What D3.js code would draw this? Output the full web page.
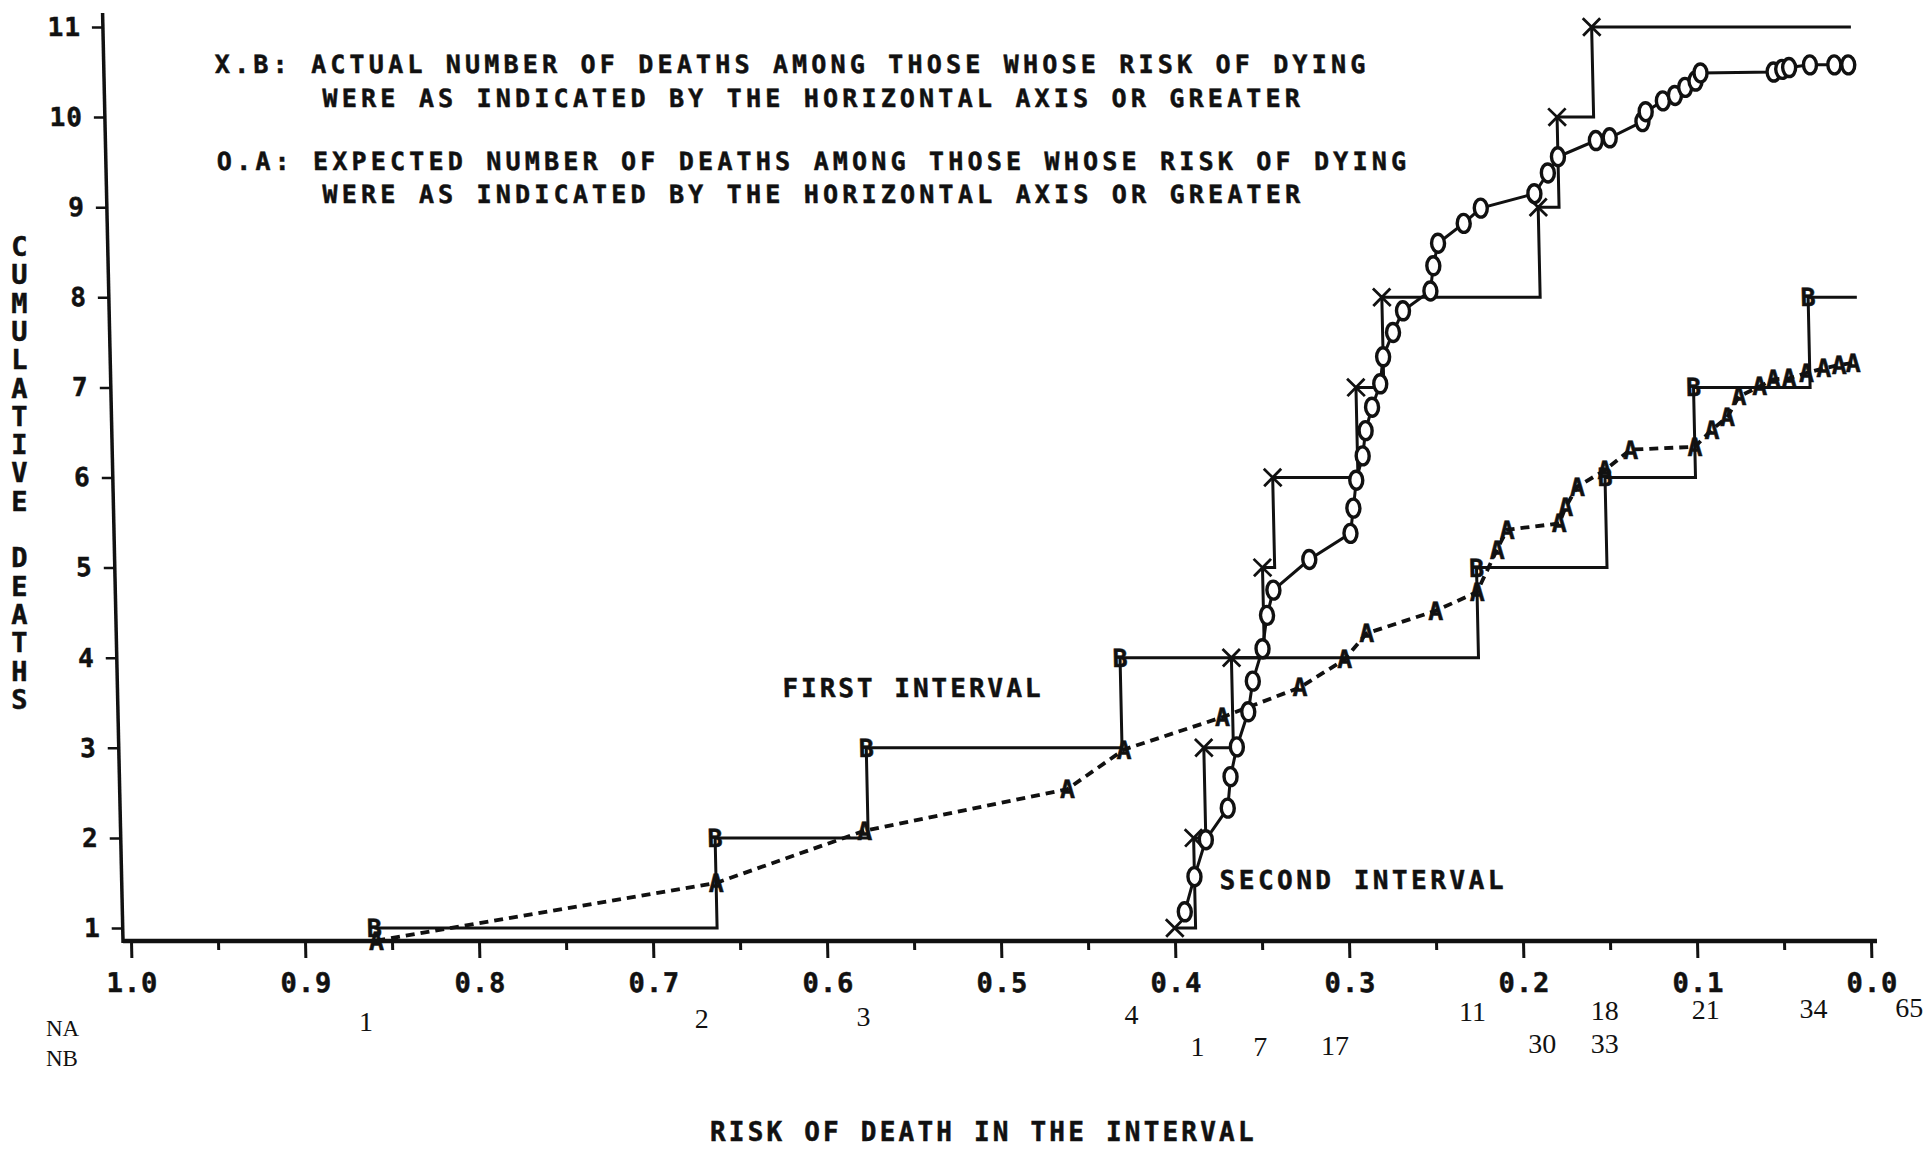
<!DOCTYPE html>
<html>
<head>
<meta charset="utf-8">
<script src="https://cdn.jsdelivr.net/npm/d3@7"></script>
<style>
  html, body { margin: 0; padding: 0; background: #fff; }
  svg { display: block; }
  .plotter { font-family: 'DejaVu Sans Mono', monospace; font-weight: bold; fill: #111; stroke: #111; stroke-width: 0.5; }
  .serif { font-family: 'Liberation Serif', 'DejaVu Serif', serif; fill: #111; }
</style>
</head>
<body>
<svg id="chart"></svg>
<script>
// ---- data (risk of death in the interval, cumulative deaths) ----
// first interval, actual deaths (B)
const firstActualRisk   = [0.860, 0.663, 0.575, 0.428, 0.222, 0.147, 0.095, 0.028, 0.0];
const firstActualDeaths = [1, 2, 3, 4, 5, 6, 7, 8, 8];

// first interval, expected deaths (A)
const firstExpRisk   = [0.859, 0.663, 0.577, 0.460, 0.427, 0.370, 0.325, 0.299, 0.286, 0.246, 0.222,
                        0.210, 0.204, 0.174, 0.170, 0.163, 0.147, 0.132, 0.095, 0.085, 0.076, 0.069,
                        0.057, 0.049, 0.040, 0.030, 0.020, 0.011, 0.003];
const firstExpDeaths = [0.86, 1.50, 2.08, 2.54, 2.98, 3.34, 3.67, 3.98, 4.27, 4.52, 4.73,
                        5.20, 5.42, 5.49, 5.67, 5.90, 6.08, 6.31, 6.34, 6.53, 6.67, 6.90,
                        7.01, 7.09, 7.10, 7.16, 7.21, 7.25, 7.27];

// second interval, actual deaths (X)
const secondActualRisk   = [0.400, 0.388, 0.381, 0.364, 0.345, 0.338, 0.289, 0.273, 0.182, 0.170, 0.149, 0.0];
const secondActualDeaths = [1, 2, 3, 4, 5, 6, 7, 8, 9, 10, 11, 11];

// second interval, expected deaths (O)
const secondExpRisk   = [0.394, 0.388, 0.381, 0.368, 0.366, 0.362, 0.355, 0.352, 0.346, 0.343, 0.339,
                         0.318, 0.294, 0.292, 0.290, 0.286, 0.284, 0.280, 0.275, 0.273, 0.267, 0.261,
                         0.245, 0.243, 0.240, 0.225, 0.215, 0.184, 0.176, 0.170, 0.148, 0.140, 0.121,
                         0.119, 0.109, 0.102, 0.096, 0.090, 0.087, 0.045, 0.040, 0.036, 0.024, 0.010, 0.002];
const secondExpDeaths = [1.18, 1.57, 1.98, 2.33, 2.68, 3.01, 3.40, 3.74, 4.10, 4.47, 4.75,
                         5.09, 5.38, 5.66, 5.97, 6.24, 6.52, 6.78, 7.04, 7.34, 7.61, 7.85,
                         8.07, 8.35, 8.60, 8.82, 8.99, 9.15, 9.38, 9.56, 9.74, 9.77, 9.95,
                         10.06, 10.18, 10.24, 10.33, 10.40, 10.49, 10.50, 10.53, 10.55, 10.58, 10.58, 10.58];

// numbers at risk under the axis
const naLabels = ['1', '2', '3', '4', '11', '18', '21', '34', '65'];
const naRisk   = [0.865, 0.672, 0.579, 0.425, 0.229, 0.153, 0.095, 0.033, -0.022];
const nbLabels = ['1', '7', '17', '30', '33'];
const nbRisk   = [0.387, 0.351, 0.308, 0.189, 0.153];

// ticks
const xTicks      = [1.0, 0.9, 0.8, 0.7, 0.6, 0.5, 0.4, 0.3, 0.2, 0.1, 0.0];
const xMinorTicks = [0.95, 0.85, 0.75, 0.65, 0.55, 0.45, 0.35, 0.25, 0.15, 0.05];
const yTicks      = [1, 2, 3, 4, 5, 6, 7, 8, 9, 10, 11];

const legendLines = [
  'X.B: ACTUAL NUMBER OF DEATHS AMONG THOSE WHOSE RISK OF DYING',
  'WERE AS INDICATED BY THE HORIZONTAL AXIS OR GREATER',
  'O.A: EXPECTED NUMBER OF DEATHS AMONG THOSE WHOSE RISK OF DYING',
  'WERE AS INDICATED BY THE HORIZONTAL AXIS OR GREATER'
];
const yTitle = 'CUMULATIVE DEATHS';
const xTitle = 'RISK OF DEATH IN THE INTERVAL';

// ---- layout ----
const width = 1925;
const height = 1150;
const axisY = 941;   // x axis baseline
const axisX = 123;   // y axis at the baseline
// the scanned page is slightly sheared: the y axis leans left towards the top
const skewDeg = Math.atan(0.022) * 180 / Math.PI;
const ink = '#111';

const xScale = d3.scaleLinear().domain([1, 0]).range([131, 1871]);
const yScale = d3.scaleLinear().domain([1, 11]).range([928, 27]);

const svg = d3.select('#chart')
  .attr('width', width)
  .attr('height', height)
  .attr('viewBox', `0 0 ${width} ${height}`);

svg.append('rect').attr('width', width).attr('height', height).attr('fill', '#fff');

const g = svg.append('g')
  .attr('transform', `translate(0,${axisY}) skewX(${skewDeg}) translate(0,${-axisY})`);

// y axis
g.append('line')
  .attr('x1', axisX).attr('x2', axisX)
  .attr('y1', 13).attr('y2', axisY + 2)
  .attr('stroke', ink).attr('stroke-width', 3.5);

const yAxis = g.append('g')
  .attr('transform', `translate(${axisX},0)`)
  .call(d3.axisLeft(yScale).tickValues(yTicks).tickSize(11).tickPadding(11).tickFormat(d3.format('d')));
yAxis.select('.domain').remove();
yAxis.selectAll('.tick line').attr('stroke', ink).attr('stroke-width', 2.5);
yAxis.selectAll('text')
  .attr('class', 'plotter')
  .attr('font-size', 26)
  .attr('letter-spacing', 1);

// x axis
g.append('line')
  .attr('x1', axisX).attr('x2', 1877)
  .attr('y1', axisY).attr('y2', axisY)
  .attr('stroke', ink).attr('stroke-width', 4.5);

const xAxis = g.append('g')
  .attr('transform', `translate(0,${axisY})`)
  .call(d3.axisBottom(xScale).tickValues(xTicks).tickSize(17).tickPadding(15).tickFormat(d3.format('.1f')));
xAxis.select('.domain').remove();
xAxis.selectAll('.tick line').attr('stroke', ink).attr('stroke-width', 3);
xAxis.selectAll('text')
  .attr('class', 'plotter')
  .attr('font-size', 27)
  .attr('letter-spacing', 1);

const xMinor = g.append('g')
  .attr('transform', `translate(0,${axisY})`)
  .call(d3.axisBottom(xScale).tickValues(xMinorTicks).tickSize(9).tickFormat(''));
xMinor.select('.domain').remove();
xMinor.selectAll('.tick line').attr('stroke', ink).attr('stroke-width', 3);

// ---- series ----
const pairs = (xs, ys) => xs.map((x, i) => [x, ys[i]]);
const firstActual = pairs(firstActualRisk, firstActualDeaths);
const firstExp = pairs(firstExpRisk, firstExpDeaths);
const secondActual = pairs(secondActualRisk, secondActualDeaths);
const secondExp = pairs(secondExpRisk, secondExpDeaths);

const stepLine = d3.line()
  .x(d => xScale(d[0]))
  .y(d => yScale(d[1]))
  .curve(d3.curveStepAfter);
const plainLine = d3.line()
  .x(d => xScale(d[0]))
  .y(d => yScale(d[1]));

g.append('path').datum(firstActual)
  .attr('fill', 'none').attr('stroke', ink).attr('stroke-width', 3)
  .attr('d', stepLine);

g.append('path').datum(secondActual)
  .attr('fill', 'none').attr('stroke', ink).attr('stroke-width', 3)
  .attr('d', stepLine);

g.append('path').datum(firstExp)
  .attr('fill', 'none').attr('stroke', ink).attr('stroke-width', 3.8)
  .attr('stroke-dasharray', '9,6')
  .attr('d', plainLine);

g.append('path').datum(secondExp)
  .attr('fill', 'none').attr('stroke', ink).attr('stroke-width', 3)
  .attr('d', plainLine);

// O markers
g.selectAll('.mark-o')
  .data(secondExp)
  .enter()
  .append('ellipse')
  .attr('class', 'mark-o')
  .attr('cx', d => xScale(d[0]))
  .attr('cy', d => yScale(d[1]))
  .attr('rx', 6.5)
  .attr('ry', 9)
  .attr('fill', '#fff')
  .attr('stroke', ink)
  .attr('stroke-width', 3.4);

// X markers
g.selectAll('.mark-x')
  .data(secondActual.slice(0, -1))
  .enter()
  .append('path')
  .attr('class', 'mark-x')
  .attr('transform', d => `translate(${xScale(d[0])},${yScale(d[1])})`)
  .attr('d', d3.symbol(d3.symbolTimes, 200))
  .attr('fill', 'none')
  .attr('stroke', ink)
  .attr('stroke-width', 2.8);

// A markers
g.selectAll('.mark-a')
  .data(firstExp)
  .enter()
  .append('text')
  .attr('class', 'plotter mark-a')
  .attr('x', d => xScale(d[0]))
  .attr('y', d => yScale(d[1]))
  .attr('text-anchor', 'middle')
  .attr('dy', '0.36em')
  .attr('font-size', 25)
  .text('A');

// B markers
g.selectAll('.mark-b')
  .data(firstActual.slice(0, -1))
  .enter()
  .append('text')
  .attr('class', 'plotter mark-b')
  .attr('x', d => xScale(d[0]))
  .attr('y', d => yScale(d[1]))
  .attr('text-anchor', 'middle')
  .attr('dy', '0.36em')
  .attr('font-size', 25)
  .text('B');

// ---- annotations ----
// legend block (x positions undo the shear so the text sits where it was printed)
const legendPos = [[234, 73], [341, 107], [234, 170], [339, 203]];
g.selectAll('.legend')
  .data(legendLines)
  .enter()
  .append('text')
  .attr('class', 'plotter legend')
  .attr('x', (d, i) => legendPos[i][0])
  .attr('y', (d, i) => legendPos[i][1])
  .attr('font-size', 25)
  .attr('letter-spacing', 4.2)
  .text(d => d);

g.append('text')
  .attr('class', 'plotter')
  .attr('x', 788).attr('y', 697)
  .attr('font-size', 26).attr('letter-spacing', 3)
  .text('FIRST INTERVAL');

g.append('text')
  .attr('class', 'plotter')
  .attr('x', 1221).attr('y', 889)
  .attr('font-size', 26).attr('letter-spacing', 3.5)
  .text('SECOND INTERVAL');

// numbers at risk rows (the printed rows drift upward a little to the right)
const rowDrift = x => (x - 370) * 0.0093;
svg.append('text').attr('class', 'serif').attr('x', 46).attr('y', 1036).attr('font-size', 23).text('NA');
svg.append('text').attr('class', 'serif').attr('x', 46).attr('y', 1066).attr('font-size', 23).text('NB');

svg.selectAll('.na')
  .data(naLabels)
  .enter()
  .append('text')
  .attr('class', 'serif na')
  .attr('x', (d, i) => xScale(naRisk[i]))
  .attr('y', (d, i) => 1031 - rowDrift(xScale(naRisk[i])))
  .attr('text-anchor', 'middle')
  .attr('font-size', 28)
  .text(d => d);

svg.selectAll('.nb')
  .data(nbLabels)
  .enter()
  .append('text')
  .attr('class', 'serif nb')
  .attr('x', (d, i) => xScale(nbRisk[i]))
  .attr('y', (d, i) => 1064 - rowDrift(xScale(nbRisk[i])))
  .attr('text-anchor', 'middle')
  .attr('font-size', 28)
  .text(d => d);

// axis titles
svg.append('text')
  .attr('class', 'plotter')
  .attr('x', 710).attr('y', 1141)
  .attr('font-size', 26).attr('letter-spacing', 3.2)
  .text(xTitle);

svg.selectAll('.ytitle')
  .data(yTitle.split(''))
  .enter()
  .append('text')
  .attr('class', 'plotter ytitle')
  .attr('x', 19.5)
  .attr('y', (d, i) => 256 + i * 28.3)
  .attr('text-anchor', 'middle')
  .attr('font-size', 27)
  .text(d => d);
</script>
</body>
</html>
